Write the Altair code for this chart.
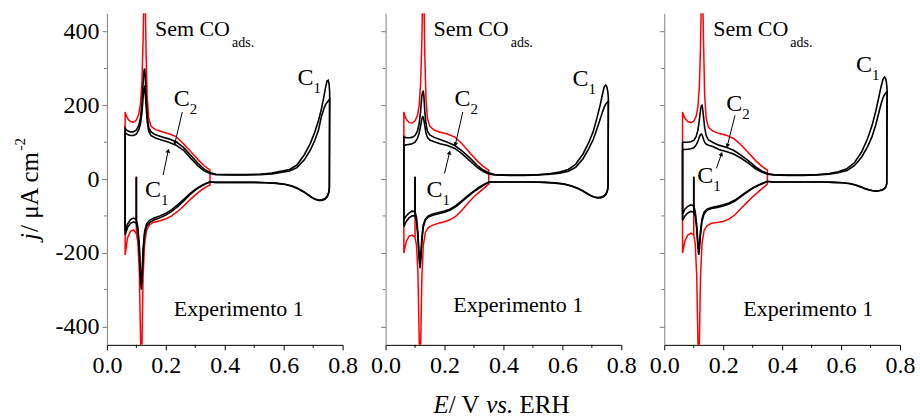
import math
import altair as alt
import pandas as pd

FONT = "Liberation Serif"
W, H = 236, 332
X_DOMAIN = [0.0, 0.8]
Y_DOMAIN = [-450, 450]

# ---------------------------------------------------------------------------
# Potential grids (V vs. ERH) shared by every voltammogram
# ---------------------------------------------------------------------------
E_START = 0.100
E_AN_LO = [0.062, 0.066, 0.072, 0.080, 0.090, 0.100, 0.108, 0.114, 0.119, 0.123,
           0.126, 0.128, 0.130, 0.133, 0.137, 0.142, 0.150, 0.165, 0.185, 0.210,
           0.235, 0.260, 0.285, 0.310, 0.330, 0.350]
E_AN_HI = [0.370, 0.420, 0.470, 0.520, 0.560, 0.590, 0.620, 0.645, 0.670, 0.690,
           0.705, 0.718, 0.728, 0.736, 0.742, 0.747, 0.751, 0.754, 0.756]
E_CAT_HI = [0.755, 0.753, 0.748, 0.740, 0.730, 0.718, 0.706, 0.695, 0.682, 0.668,
            0.650, 0.630, 0.605, 0.575, 0.540, 0.500, 0.450, 0.400, 0.370]
E_CAT_LO = [0.350, 0.335, 0.320, 0.300, 0.280, 0.260, 0.240, 0.220, 0.200, 0.180,
            0.160, 0.145, 0.135, 0.128, 0.123, 0.120, 0.117, 0.114, 0.110, 0.105,
            0.100, 0.090, 0.080, 0.070, 0.062]

# ---------------------------------------------------------------------------
# Current densities (uA cm-2)
# ---------------------------------------------------------------------------
# panel 1
P1_RED_AN = [182, 172, 162, 156, 154, 160, 175, 205, 265, 380, 520, 560, 500, 340, 220,
             165, 143, 134, 129, 123, 115, 96, 74, 52, 36, 24]
P1_RED_CAT = [-16, -22, -30, -43, -58, -74, -88, -100, -108, -113, -117, -124, -138, -175,
              -260, -400, -560, -420, -250, -170, -148, -138, -142, -160, -206]
P1_A_AN_LO = [138, 133, 130, 128, 128, 133, 145, 165, 205, 260, 293, 300, 285, 230, 170,
              140, 128, 120, 115, 109, 101, 86, 64, 42, 27, 18]
P1_B_AN_LO = [127, 123, 120, 118, 118, 122, 133, 150, 180, 222, 245, 249, 238, 200, 155,
              130, 118, 111, 106, 100, 92, 78, 56, 35, 22, 15]
P1_A_AN_HI = [13, 12, 12, 13, 16, 21, 26, 38, 66, 96, 126, 158, 190, 222, 248, 266, 268, 258, 235]
P1_B_AN_HI = [12, 11, 11, 12, 14, 18, 22, 31, 52, 78, 104, 132, 170, 190, 202, 208, 212, 215, 217]
P1_A_CAT_HI = [-25, -38, -48, -55, -58, -58, -55, -50, -43, -35, -27, -20, -15, -12, -10, -9, -9, -9, -9]
P1_B_CAT_HI = [-22, -35, -46, -53, -56, -57, -54, -49, -42, -34, -26, -19, -14, -11, -10, -9, -9, -9, -9]
P1_A_CAT_LO = [-8, -13, -20, -30, -44, -60, -75, -88, -98, -105, -111, -118, -128, -150, -200,
               -260, -300, -270, -190, -140, -120, -116, -120, -132, -152]
P1_B_CAT_LO = [-8, -12, -18, -28, -41, -56, -70, -83, -93, -100, -106, -112, -121, -142, -188,
               -245, -285, -258, -180, -130, -110, -106, -110, -122, -140]

# panel 2
P2_RED_AN = [182, 170, 160, 153, 152, 158, 172, 200, 260, 370, 510, 560, 500, 340, 220,
             165, 143, 133, 127, 122, 114, 95, 72, 50, 35, 24]
P2_RED_CAT = [-14, -24, -34, -48, -65, -84, -100, -110, -116, -120, -125, -132, -145, -180,
              -270, -410, -560, -430, -260, -180, -158, -152, -155, -170, -201]
P2_A_AN_LO = [115, 113, 112, 112, 113, 118, 130, 150, 185, 225, 237, 238, 225, 185, 150,
              130, 120, 113, 107, 100, 91, 76, 58, 38, 25, 17]
P2_B_AN_LO = [92, 92, 93, 94, 96, 100, 110, 125, 145, 163, 169, 168, 160, 145, 125,
              113, 106, 101, 96, 91, 83, 68, 50, 32, 21, 14]
P2_A_AN_HI = [12, 11, 11, 12, 15, 19, 26, 40, 68, 100, 130, 168, 200, 230, 250, 255, 250, 238, 220]
P2_B_AN_HI = [11, 10, 10, 11, 13, 16, 21, 32, 55, 83, 108, 138, 162, 182, 195, 203, 207, 210, 210]
P2_A_CAT_HI = [-20, -32, -42, -48, -51, -51, -49, -45, -39, -32, -25, -19, -14, -11, -9, -8, -8, -8, -8]
P2_B_CAT_HI = [-18, -30, -40, -46, -49, -50, -48, -44, -38, -31, -24, -18, -13, -10, -9, -8, -8, -8, -8]
P2_A_CAT_LO = [-9, -16, -23, -34, -47, -61, -74, -84, -90, -94, -98, -103, -112, -130, -170,
               -215, -242, -220, -160, -115, -100, -100, -105, -115, -129]
P2_B_CAT_LO = [-8, -14, -21, -32, -44, -58, -71, -81, -87, -91, -95, -100, -108, -124, -160,
               -200, -228, -208, -150, -105, -88, -87, -92, -100, -111]

# panel 3
P3_RED_AN = [182, 172, 163, 156, 153, 157, 170, 195, 250, 360, 500, 560, 520, 380, 230,
             165, 140, 130, 124, 119, 110, 93, 72, 50, 35, 24]
P3_RED_CAT = [-14, -24, -34, -48, -64, -80, -97, -108, -115, -118, -120, -127, -140, -175,
              -265, -400, -560, -430, -260, -175, -152, -147, -152, -168, -201]
P3_A_AN_LO = [100, 100, 100, 100, 101, 105, 115, 132, 160, 188, 199, 200, 192, 170, 140,
              118, 106, 99, 92, 86, 78, 65, 50, 33, 22, 15]
P3_B_AN_LO = [80, 80, 80, 81, 82, 85, 92, 102, 114, 121, 122, 120, 116, 108, 100,
              95, 92, 88, 80, 75, 68, 57, 43, 28, 19, 13]
P3_A_AN_HI = [12, 11, 11, 12, 15, 20, 28, 44, 74, 110, 145, 185, 222, 252, 270, 277, 274, 262, 245]
P3_B_AN_HI = [11, 10, 10, 11, 13, 17, 23, 36, 60, 88, 115, 148, 180, 205, 220, 228, 233, 236, 237]
P3_A_CAT_HI = [-12, -20, -26, -30, -32, -33, -32, -30, -27, -22, -17, -13, -10, -9, -8, -8, -8, -8, -8]
P3_B_CAT_HI = [-11, -19, -25, -29, -31, -32, -31, -29, -26, -21, -16, -12, -10, -9, -8, -8, -8, -8, -8]
P3_A_CAT_LO = [-7, -12, -17, -25, -36, -48, -60, -68, -73, -77, -80, -85, -95, -115, -150,
               -185, -206, -185, -135, -100, -90, -88, -92, -100, -112]
P3_B_CAT_LO = [-6, -11, -16, -24, -34, -46, -57, -65, -70, -74, -77, -82, -90, -108, -140,
               -170, -190, -172, -125, -88, -73, -70, -74, -82, -95]

START_J_BLACK = 6
START_J_RED = 0

# ---------------------------------------------------------------------------
# Annotations (one entry per panel)
# ---------------------------------------------------------------------------
SEM_E = [0.163, 0.163, 0.166]
SEM_J = [388, 388, 388]
EXP_E = [0.227, 0.230, 0.268]
EXP_J = [-371, -362, -373]
C2_E = [0.227, 0.234, 0.210]
C2_J = [198, 198, 184]
C1_LOW_E = [0.129, 0.139, 0.112]
C1_LOW_J = [-49, -49, -11]
C1_HIGH_E = [0.647, 0.634, 0.651]
C1_HIGH_J = [255, 252, 290]
# arrows: (start E, start j, end E, end j)
ARROWS_C2 = [(0.256, 182, 0.231, 98), (0.262, 182, 0.237, 94), (0.240, 173, 0.214, 90)]
ARROWS_C1 = [(0.191, 11, 0.208, 77), (0.200, 15, 0.217, 72), (0.177, 29, 0.194, 68)]

X_TICKS = [0.0, 0.2, 0.4, 0.6, 0.8]
X_MINOR = [0.1, 0.3, 0.5, 0.7]
Y_TICKS = [-400, -200, 0, 200, 400]
Y_MINOR = [-300, -100, 100, 300]

# approximate Times advance widths (em) used to lay out composite titles
ROMAN_W = {'E': .611, '/': .278, ' ': .25, 'V': .722, 'v': .5, 's': .389, '.': .25,
           'R': .667, 'H': .722, 'j': .278, 'μ': .5, 'A': .722, 'c': .444, 'm': .778,
           'S': .556, 'e': .444, 'C': .667, 'O': .722, '-': .333, '2': .5}
ITALIC_W = {'E': .611, 'v': .444, 's': .389, '.': .25, 'j': .278, ' ': .25}


def text_w(s, size, italic=False):
    table = ITALIC_W if italic else ROMAN_W
    return sum(table.get(ch, .5) for ch in s) * size


def cycle(curve, an_lo, cat_lo, an_hi=None, cat_hi=None, j_start=6):
    pts = [(E_START, j_start)]
    pts += [(e, j) for e, j in zip(E_CAT_LO, cat_lo) if e <= E_START]
    pts += list(zip(E_AN_LO, an_lo))
    if an_hi is not None:
        pts += list(zip(E_AN_HI, an_hi))
        pts += list(zip(E_CAT_HI, cat_hi))
    pts += list(zip(E_CAT_LO, cat_lo))
    return pd.DataFrame({"E": [p[0] for p in pts], "j": [p[1] for p in pts],
                         "curve": curve, "order": range(len(pts))})


PANELS = [
    dict(red=(P1_RED_AN, P1_RED_CAT),
         a=(P1_A_AN_LO, P1_A_CAT_LO, P1_A_AN_HI, P1_A_CAT_HI),
         b=(P1_B_AN_LO, P1_B_CAT_LO, P1_B_AN_HI, P1_B_CAT_HI)),
    dict(red=(P2_RED_AN, P2_RED_CAT),
         a=(P2_A_AN_LO, P2_A_CAT_LO, P2_A_AN_HI, P2_A_CAT_HI),
         b=(P2_B_AN_LO, P2_B_CAT_LO, P2_B_AN_HI, P2_B_CAT_HI)),
    dict(red=(P3_RED_AN, P3_RED_CAT),
         a=(P3_A_AN_LO, P3_A_CAT_LO, P3_A_AN_HI, P3_A_CAT_HI),
         b=(P3_B_AN_LO, P3_B_CAT_LO, P3_B_AN_HI, P3_B_CAT_HI)),
]

x_scale = alt.Scale(domain=X_DOMAIN, nice=False, zero=False)
y_scale = alt.Scale(domain=Y_DOMAIN, nice=False, zero=False)
px_per_e = W / (X_DOMAIN[1] - X_DOMAIN[0])
px_per_j = H / (Y_DOMAIN[1] - Y_DOMAIN[0])

X_AXIS = alt.Axis(values=X_TICKS, labelExpr="format(datum.value, '.1f')", title=None,
                  tickSize=5, tickWidth=1, domainColor="black", tickColor="black",
                  domainWidth=1, labelFlush=False, labelOverlap=False, labelPadding=4,
                  labelFont=FONT, labelFontSize=24, labelColor="black", grid=False)
Y_AXIS_LABELLED = alt.Axis(values=Y_TICKS, labelExpr="toString(datum.value)", title=None,
                           tickSize=5, tickWidth=1, domainColor="#808080", tickColor="#808080",
                           domainWidth=1, labelPadding=3, labelFont=FONT, labelFontSize=24,
                           labelColor="black", grid=False, labelFlush=False, labelOverlap=False)
Y_AXIS_BARE = alt.Axis(values=Y_TICKS, labels=False, title=None, tickSize=5, tickWidth=1,
                       domainColor="#808080", tickColor="#808080", domainWidth=1, grid=False)


def make_panel(k):
    p = PANELS[k]
    y_axis = Y_AXIS_LABELLED if k == 0 else Y_AXIS_BARE

    def X(field):
        return alt.X(field, scale=x_scale, axis=X_AXIS)

    def Y(field):
        return alt.Y(field, scale=y_scale, axis=y_axis)

    red = cycle("red", p["red"][0], p["red"][1], j_start=START_J_RED)
    a = p["a"]
    b = p["b"]
    black = pd.concat([cycle("A", a[0], a[1], a[2], a[3], START_J_BLACK),
                       cycle("B", b[0], b[1], b[2], b[3], START_J_BLACK)])

    red_layer = alt.Chart(red).mark_line(clip=True, color="#ff0000", strokeWidth=1.5).encode(
        x=X("E:Q"), y=Y("j:Q"), order="order:Q")
    black_layer = alt.Chart(black).mark_line(clip=True, color="black", strokeWidth=1.6).encode(
        x=X("E:Q"), y=Y("j:Q"), detail="curve:N", order="order:Q")

    minor_x = alt.Chart(pd.DataFrame({"E": X_MINOR})).mark_rule(color="black", strokeWidth=1).encode(
        x=X("E:Q"), y=alt.value(H), y2=alt.value(H + 3))
    minor_y = alt.Chart(pd.DataFrame({"j": Y_MINOR})).mark_rule(color="#808080", strokeWidth=1).encode(
        y=Y("j:Q"), x=alt.value(0), x2=alt.value(-3))

    def txt(df, size, **kw):
        return alt.Chart(df).mark_text(font=FONT, fontSize=size, color="black", align="left",
                                       baseline="alphabetic", **kw).encode(
            x=X("E:Q"), y=Y("j:Q"), text="t:N")

    sem = pd.DataFrame({"E": [SEM_E[k]], "j": [SEM_J[k]], "t": ["Sem CO"]})
    ads = pd.DataFrame({"E": [SEM_E[k]], "j": [SEM_J[k]], "t": ["ads."]})
    exp = pd.DataFrame({"E": [EXP_E[k]], "j": [EXP_J[k]], "t": ["Experimento 1"]})
    cmain = pd.DataFrame({"E": [C2_E[k], C1_LOW_E[k], C1_HIGH_E[k]],
                          "j": [C2_J[k], C1_LOW_J[k], C1_HIGH_J[k]], "t": ["C", "C", "C"]})
    csub = pd.DataFrame({"E": [C2_E[k], C1_LOW_E[k], C1_HIGH_E[k]],
                         "j": [C2_J[k], C1_LOW_J[k], C1_HIGH_J[k]], "t": ["2", "1", "1"]})

    arrows = []
    for (x1, y1, x2, y2) in (ARROWS_C2[k], ARROWS_C1[k]):
        dx = (x2 - x1) * px_per_e
        dy = -(y2 - y1) * px_per_j
        ang = math.degrees(math.atan2(dx, -dy)) % 360
        arrows.append(dict(x1=x1, y1=y1, x2=x2, y2=y2, ang=ang))
    arrows = pd.DataFrame(arrows)
    arrow_lines = alt.Chart(arrows).mark_rule(color="black", strokeWidth=1).encode(
        x=X("x1:Q"), y=Y("y1:Q"), x2="x2:Q", y2="y2:Q")
    arrow_heads = alt.Chart(arrows).mark_point(shape="triangle-up", filled=True, size=22,
                                               color="black", opacity=1, strokeWidth=0).encode(
        x=X("x2:Q"), y=Y("y2:Q"), angle=alt.Angle("ang:Q", scale=None))

    layers = [red_layer, black_layer, minor_x, minor_y,
              txt(sem, 22), txt(ads, 14, dx=text_w("Sem CO", 22) + 2, dy=11),
              txt(exp, 22),
              txt(cmain, 24), txt(csub, 15, dx=text_w("C", 24), dy=8),
              arrow_lines, arrow_heads]

    if k == 0:
        # y-axis title, read bottom to top: j/ uA cm^-2
        base_x = -69
        y0 = 227
        w_j = text_w("j", 25, True)
        w_main = text_w("/ μA cm", 25)
        ytitle = pd.DataFrame({
            "t": ["j", "/ μA cm", "-2"],
            "px": [base_x, base_x, base_x - 13],
            "py": [y0, y0 - w_j - 1, y0 - w_j - 1 - w_main - 1],
            "style": ["italic", "normal", "sup"]})
        for style, size in (("italic", 25), ("normal", 25), ("sup", 15)):
            layers.append(alt.Chart(ytitle[ytitle["style"] == style]).mark_text(
                font=FONT, fontSize=size, color="black", align="left", baseline="alphabetic",
                angle=270, fontStyle="italic" if style == "italic" else "normal").encode(
                x=alt.X("px:Q", scale=None, axis=None), y=alt.Y("py:Q", scale=None, axis=None),
                text="t:N"))

    if k == 1:
        # x-axis title: E/ V vs. ERH
        pieces = [("E", True), ("/ V", False), (" ", False), ("vs.", True), (" ", False), ("ERH", False)]
        x = 48
        rows = []
        for s, it in pieces:
            if s.strip():
                rows.append(dict(t=s, px=x, py=400, style="italic" if it else "normal"))
            x += text_w(s, 25, it)
        xtitle = pd.DataFrame(rows)
        for style in ("italic", "normal"):
            layers.append(alt.Chart(xtitle[xtitle["style"] == style]).mark_text(
                font=FONT, fontSize=25, color="black", align="left", baseline="alphabetic",
                fontStyle=style).encode(
                x=alt.X("px:Q", scale=None, axis=None), y=alt.Y("py:Q", scale=None, axis=None),
                text="t:N"))

    return alt.layer(*layers).properties(width=W, height=H)


chart = alt.hconcat(make_panel(0), make_panel(1), make_panel(2), spacing=13).properties(
    padding={"left": 13, "top": 13, "right": 5, "bottom": 5},
    background="white",
).configure_view(stroke=None)

chart.save("out.html", embed_options={"renderer": "svg", "actions": False})
